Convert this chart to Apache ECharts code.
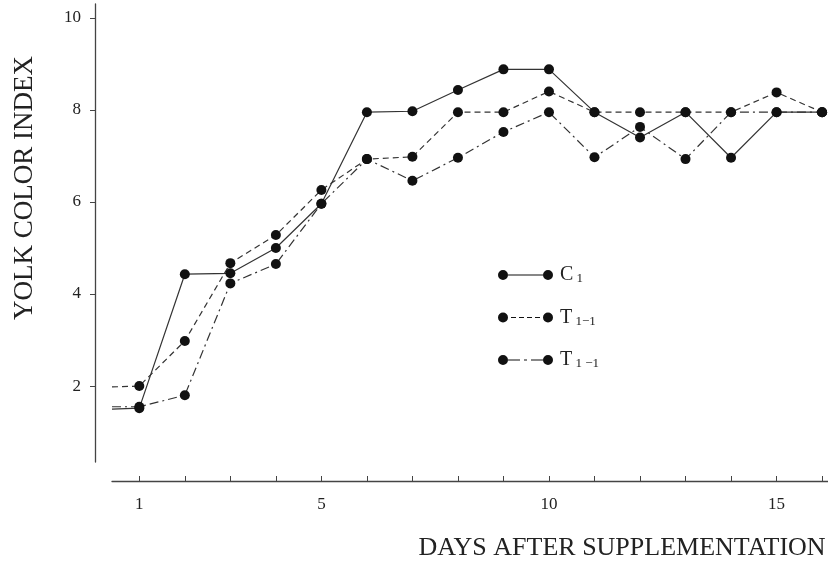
<!DOCTYPE html>
<html><head><meta charset="utf-8">
<script src="https://cdn.jsdelivr.net/npm/echarts@6/dist/echarts.min.js"></script>
<style>html,body{margin:0;padding:0;background:#fff}#c{width:828px;height:564px}</style>
</head><body><div id="c"></div>
<script>
// ---- data ----
const days = [0.4, 1, 2, 3, 4, 5, 6, 7, 8, 9, 10, 11, 12, 13, 14, 15, 16];
const c1   = [1.50, 1.52, 4.43, 4.45, 5.00, 5.96, 7.95, 7.97, 8.43, 8.88, 8.88, 7.95, 7.40, 7.95, 6.96, 7.95, 7.95];
const t11  = [1.98, 2.00, 2.98, 4.67, 5.28, 6.26, 6.93, 6.98, 7.95, 7.95, 8.40, 7.95, 7.95, 7.95, 7.95, 8.38, 7.95];
const t11b = [1.55, 1.55, 1.80, 4.23, 4.65, 5.96, 6.93, 6.46, 6.96, 7.52, 7.95, 6.97, 7.63, 6.93, 7.95, 7.95, 7.95];
const seriesNames = ['C 1', 'T 1\u22121', 'T 1 \u22121'];
const legendMain = ['C', 'T', 'T'];
const legendSub = ['1', '1\u22121', '1 \u22121'];
const xTickValues = [1, 2, 3, 4, 5, 6, 7, 8, 9, 10, 11, 12, 13, 14, 15, 16];
const xLabelValues = [1, 5, 10, 15];
const yTickValues = [2, 4, 6, 8, 10];
const xTitle = 'DAYS AFTER SUPPLEMENTATION';
const yTitle = 'YOLK COLOR INDEX';

// ---- styling helpers ----
const FONT = '"Liberation Serif", "DejaVu Serif", serif';
function pairs(vals) {
  return days.map((d, i) => i === 0 ? { value: [d, vals[i]], symbol: 'none' } : [d, vals[i]]);
}
function iconPath(pattern, startOn) {
  let p = 'path://M0,5a5,5 0 1,0 10,0a5,5 0 1,0 -10,0Z M45,5a5,5 0 1,0 10,0a5,5 0 1,0 -10,0Z';
  let x = 10, i = 0, on = startOn;
  const end = 45;
  while (x < end - 0.01) {
    const len = pattern[i % pattern.length];
    const x2 = Math.min(end, x + len);
    if (on) p += ' M' + x + ',4.4L' + x2 + ',4.4L' + x2 + ',5.6L' + x + ',5.6Z';
    x = x2; on = !on; i++;
  }
  return p;
}
const icons = [
  iconPath([35], true),
  iconPath([3, 5], false),
  iconPath([12, 4, 3, 4, 12], true)
];
const lineTypes = ['solid', [6, 4], [9, 4, 2, 4]];
const seriesVals = [c1, t11, t11b];

const chart = echarts.init(document.getElementById('c'), null, { renderer: 'canvas' });
chart.setOption({
  backgroundColor: '#ffffff',
  animation: false,
  grid: { left: 112, right: 0, top: 4, bottom: 102, containLabel: false, outerBoundsMode: 'none' },
  legend: {
    orient: 'vertical', left: 493, top: 260,
    itemWidth: 55, itemHeight: 10, itemGap: 22,
    data: seriesNames.map((n, k) => ({ name: n, icon: icons[k] })),
    itemStyle: { borderWidth: 0 },
    formatter: function (name) {
      const k = seriesNames.indexOf(name);
      return '{b|' + legendMain[k] + '}{s| ' + legendSub[k] + '}';
    },
    textStyle: {
      rich: {
        b: { fontFamily: FONT, fontSize: 20, color: '#222', padding: [0, 0, 0, 2] },
        s: { fontFamily: FONT, fontSize: 13, color: '#222', padding: [8, 0, 0, 0] }
      }
    }
  },
  xAxis: {
    type: 'value', min: 0.4, max: 16.13, offset: 19,
    axisLine: { show: true, lineStyle: { color: '#444', width: 1.3 } },
    axisTick: { show: true, inside: true, length: 5, customValues: xTickValues, lineStyle: { color: '#444', width: 1 } },
    axisLabel: { customValues: xLabelValues, margin: 15, fontFamily: FONT, fontSize: 17, color: '#222' },
    splitLine: { show: false },
    name: xTitle, nameLocation: 'middle', nameGap: 54,
    nameTextStyle: { fontFamily: FONT, fontSize: 26, color: '#222', padding: [0, 0, 0, 304] }
  },
  yAxis: {
    type: 'value', min: 0.35, max: 10.3, offset: 17,
    axisLine: { show: true, lineStyle: { color: '#444', width: 1.3 } },
    axisTick: { show: true, inside: false, length: 5, customValues: yTickValues, lineStyle: { color: '#444', width: 1 } },
    axisLabel: { customValues: yTickValues, margin: 14, fontFamily: FONT, fontSize: 17, color: '#222' },
    splitLine: { show: false },
    name: yTitle, nameLocation: 'middle', nameRotate: 90, nameGap: 57,
    nameTextStyle: { fontFamily: FONT, fontSize: 27, color: '#222', padding: [0, 0, 0, 90] }
  },
  series: seriesNames.map((n, k) => ({
    name: n, type: 'line', data: pairs(seriesVals[k]),
    symbol: 'circle', symbolSize: 10, clip: false,
    lineStyle: { color: '#333', width: 1.2, type: lineTypes[k] },
    itemStyle: { color: '#111' },
    emphasis: { disabled: true }
  }))
});
</script>
</body></html>
